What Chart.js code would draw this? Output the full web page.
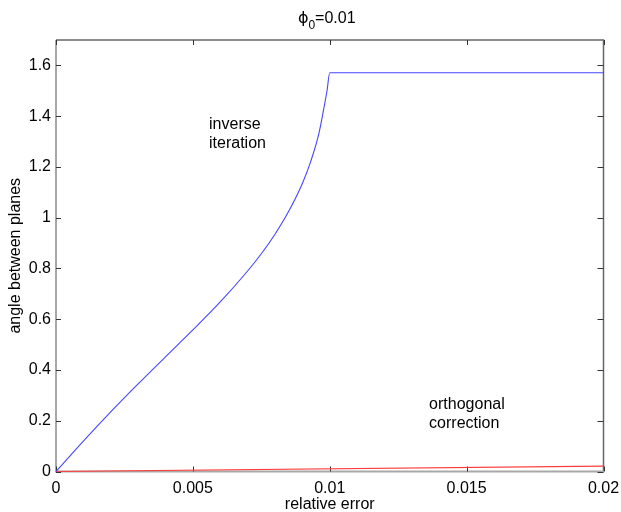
<!DOCTYPE html>
<html>
<head>
<meta charset="utf-8">
<script src="https://cdn.jsdelivr.net/npm/chart.js@4"></script>
<style>
  html, body { margin: 0; padding: 0; background: #fff; }
</style>
</head>
<body>
<canvas id="anglePlot" width="621" height="512"></canvas>
<script>
// values
const relErr = [0, 0.001, 0.002, 0.003, 0.004, 0.005, 0.006, 0.007, 0.0075, 0.008, 0.0085, 0.009, 0.0093, 0.0096, 0.0098, 0.0099, 0.01, 0.02];
const inverseAngle = [0, 0.12, 0.235, 0.345, 0.452, 0.558, 0.668, 0.79, 0.858, 0.935, 1.025, 1.135, 1.22, 1.33, 1.44, 1.50, 1.5708, 1.5708];
const orthoErr = [0, 0.02];
const orthoAngle = [0, 0.021];
const xTicks = [0, 0.005, 0.01, 0.015, 0.02];
const yTicks = [0, 0.2, 0.4, 0.6, 0.8, 1, 1.2, 1.4, 1.6];

const FONT = '"Liberation Sans", Arial, sans-serif';

const toPts = (xs, ys) => xs.map((x, i) => ({x: x, y: ys[i]}));
const fmt = v => String(+v.toFixed(4));

// labels placed in data coordinates, like matlab text()
const notes = [
  {x: 0.00559, y: 1.351, lines: ['inverse', 'iteration']},
  {x: 0.01363, y: 0.2465, lines: ['orthogonal', 'correction']}
];

const matlabAxes = {
  id: 'matlabAxes',
  beforeDatasetsDraw(chart) {
    const {ctx, chartArea: a, scales: {x, y}} = chart;
    ctx.save();
    // box
    ctx.lineWidth = 1.5;
    ctx.strokeStyle = '#666';
    ctx.beginPath();
    ctx.moveTo(a.left, a.top); ctx.lineTo(a.right, a.top); ctx.lineTo(a.right, a.bottom);
    ctx.stroke();
    ctx.strokeStyle = '#a8a8a8';
    ctx.lineWidth = 2;
    ctx.beginPath();
    ctx.moveTo(a.left, a.top); ctx.lineTo(a.left, a.bottom); ctx.lineTo(a.right, a.bottom);
    ctx.stroke();
    // inward ticks
    ctx.strokeStyle = '#333';
    ctx.lineWidth = 1;
    ctx.beginPath();
    xTicks.forEach(v => {
      const px = Math.round(x.getPixelForValue(v)) + 0.5;
      ctx.moveTo(px, a.bottom); ctx.lineTo(px, a.bottom - 5);
      ctx.moveTo(px, a.top); ctx.lineTo(px, a.top + 5);
    });
    yTicks.forEach(v => {
      const py = Math.round(y.getPixelForValue(v)) + 0.5;
      ctx.moveTo(a.left, py); ctx.lineTo(a.left + 5, py);
      ctx.moveTo(a.right, py); ctx.lineTo(a.right - 6, py);
    });
    ctx.stroke();
    ctx.restore();
  },
  afterDraw(chart) {
    const {ctx, chartArea: a, scales: {x, y}} = chart;
    ctx.save();
    ctx.fillStyle = '#000';
    // title phi_0=0.01
    ctx.textBaseline = 'alphabetic';
    ctx.textAlign = 'left';
    const big = '16px ' + FONT, small = '12px ' + FONT;
    const phiFont = '16px "DejaVu Sans", ' + FONT;
    ctx.font = phiFont;
    const wPhi = ctx.measureText('\u03d5').width;
    ctx.font = big;
    const wRest = ctx.measureText('=0.01').width;
    ctx.font = small;
    const wSub = ctx.measureText('0').width;
    let tx = (a.left + a.right) / 2 - 3 - (wPhi + wSub + wRest) / 2;
    ctx.font = phiFont;
    ctx.fillText('\u03d5', tx, 23);
    tx += wPhi;
    ctx.font = small;
    ctx.fillText('0', tx, 29);
    tx += wSub;
    ctx.font = big;
    ctx.fillText('=0.01', tx, 23);
    // annotations
    ctx.font = '16px ' + FONT;
    notes.forEach(n => {
      const px = x.getPixelForValue(n.x), py = y.getPixelForValue(n.y);
      n.lines.forEach((t, i) => ctx.fillText(t, px, py + i * 19));
    });
    ctx.restore();
  }
};

new Chart(document.getElementById('anglePlot'), {
  type: 'line',
  data: {
    datasets: [{
      label: 'inverse iteration',
      data: toPts(relErr, inverseAngle),
      borderColor: 'rgb(70,70,255)',
      borderWidth: 1.1,
      pointRadius: 0,
      cubicInterpolationMode: 'monotone',
      clip: false
    }, {
      label: 'orthogonal correction',
      data: toPts(orthoErr, orthoAngle),
      borderColor: 'rgb(255,60,60)',
      borderWidth: 1.2,
      pointRadius: 0,
      tension: 0,
      clip: false
    }]
  },
  options: {
    responsive: false,
    animation: false,
    layout: {padding: {left: 0, right: 17.5, top: 40, bottom: 0}},
    plugins: {
      legend: {display: false},
      tooltip: {enabled: false}
    },
    scales: {
      x: {
        type: 'linear',
        min: 0,
        max: 0.02,
        afterBuildTicks: s => { s.ticks = xTicks.map(v => ({value: v})); },
        afterFit: s => { s.height = 40.5; s.paddingLeft = 0; s.paddingRight = 0; },
        grid: {display: false, drawTicks: false},
        border: {display: false},
        ticks: {
          padding: 7,
          color: '#000',
          font: {family: FONT, size: 16},
          maxRotation: 0,
          callback: v => fmt(v)
        },
        title: {
          display: true,
          text: 'relative error',
          color: '#000',
          font: {family: FONT, size: 16, lineHeight: 1},
          padding: {top: 0, bottom: -1}
        }
      },
      y: {
        type: 'linear',
        min: 0,
        max: 1.7,
        afterBuildTicks: s => { s.ticks = yTicks.map(v => ({value: v})); },
        afterFit: s => { s.width = 56; },
        grid: {display: false, drawTicks: false},
        border: {display: false},
        ticks: {
          padding: 5,
          color: '#000',
          font: {family: FONT, size: 16},
          callback: v => fmt(v)
        },
        title: {
          display: true,
          text: 'angle between planes',
          color: '#000',
          font: {family: FONT, size: 16},
          padding: {top: 6, bottom: 0}
        }
      }
    }
  },
  plugins: [matlabAxes]
});
</script>
</body>
</html>
